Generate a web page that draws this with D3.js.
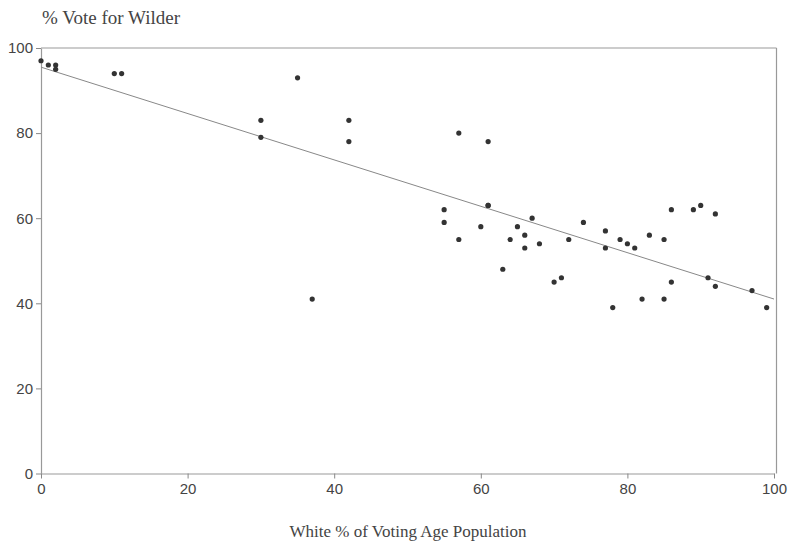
<!DOCTYPE html>
<html><head><meta charset="utf-8">
<script src="https://cdn.jsdelivr.net/npm/d3@7"></script>
<style>body{margin:0;background:#fff}</style>
</head><body>
<svg id="c" width="788" height="542"></svg>
<script>
const whitePct = [0,1,2,2,10,11,30,30,35,37,42,42,55,55,57,57,60,61,61,61,63,64,65,66,66,67,68,70,71,72,74,77,77,78,79,80,81,82,83,85,85,86,86,89,90,91,92,92,97,99];
const wilderPct = [97,96,96,95,94,94,83,79,93,41,83,78,62,59,80,55,58,78,63,63,48,55,58,56,53,60,54,45,46,55,59,57,53,39,55,54,53,41,56,55,41,62,45,62,63,46,61,44,43,39];
const fitEnds = [[0,95.5],[100,41]];
const xTicks = [0,20,40,60,80,100];
const yTicks = [0,20,40,60,80,100];

const svg = d3.select('#c');
const x = d3.scaleLinear().domain([0,100]).range([41,774]);
const y = d3.scaleLinear().domain([0,100]).range([473.5,48]);

// frame top/right
svg.append('line').attr('x1',41).attr('x2',776.5).attr('y1',y(100)).attr('y2',y(100)).attr('stroke','#999').attr('stroke-width',1.2);
svg.append('line').attr('x1',776.5).attr('x2',776.5).attr('y1',y(100)).attr('y2',y(0)).attr('stroke','#999').attr('stroke-width',1.2);

const gx = svg.append('g').attr('transform',`translate(0,${y(0)})`)
  .call(d3.axisBottom(x).tickValues(xTicks).tickSize(5).tickPadding(5).tickSizeOuter(0));
const gy = svg.append('g').attr('transform',`translate(${x(0)},0)`)
  .call(d3.axisLeft(y).tickValues(yTicks).tickSize(5).tickPadding(3).tickSizeOuter(0));
[gx,gy].forEach(g=>{
  g.select('.domain').attr('stroke','#999').attr('stroke-width',1.2);
  g.selectAll('.tick line').attr('stroke','#888');
  g.selectAll('.tick text').attr('fill','#444').style('font-family','Liberation Sans, Arial, sans-serif').style('font-size','15px');
});

svg.append('line')
  .attr('x1',x(fitEnds[0][0])).attr('y1',y(fitEnds[0][1]))
  .attr('x2',x(fitEnds[1][0])).attr('y2',y(fitEnds[1][1]))
  .attr('stroke','#888').attr('stroke-width',1);

svg.append('g').selectAll('circle').data(whitePct).join('circle')
  .attr('cx',d=>x(d)).attr('cy',(d,i)=>y(wilderPct[i])).attr('r',2.6).attr('fill','#333');

svg.append('text').attr('x',42).attr('y',24).text('% Vote for Wilder')
  .style('font-family','Liberation Serif, Times New Roman, serif').style('font-size','19px').attr('fill','#444');
svg.append('text').attr('x',408).attr('y',537).attr('text-anchor','middle').text('White % of Voting Age Population')
  .style('font-family','Liberation Serif, Times New Roman, serif').style('font-size','17px').attr('fill','#444');
</script>
</body></html>
